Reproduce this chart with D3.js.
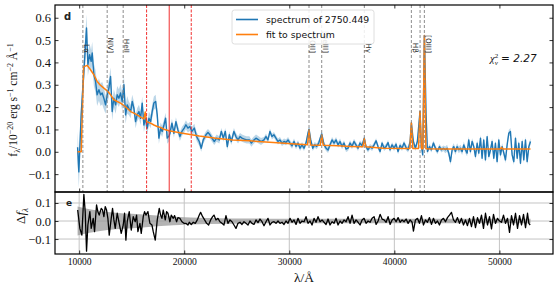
<!DOCTYPE html>
<html>
<head>
<meta charset="utf-8">
<script src="https://cdn.jsdelivr.net/npm/d3@7"></script>
<style>
body{margin:0;background:#fff;}
</style>
</head>
<body>
<script>
//observed wavelength grid of the spectrum (A)
var specLam = [9850,9970,10190,10450,10700,10830,10990,11140,11240,11400,11560,11710,11880,12040,12190,12350,12510,12670,12830,12990,
  13140,13300,13470,13620,13780,13940,14100,14260,14420,14570,14730,14900,15050,15210,15370,15520,15690,15850,16000,16160,
  16320,16480,16640,16800,16950,17110,17280,17430,17590,17750,17900,18070,18230,18380,18540,
  18640,18830,19020,19210,19400,19590,19780,20000,20160,20350,20540,20730,20960,21180,21430,21620,21810,22070,22260,22450,
  22640,22860,23080,23340,23530,23720,23910,24100,24290,24480,24730,24920,25120,25310,25500,25720,25940,26200,26390,26580,
  26830,27080,27310,
  27590,27780,27970,28160,28350,28540,28730,28920,29110,29300,29500,29690,29880,30070,30260,30450,30640,30830,31020,31210,
  31400,31590,31780,31880,32040,32230,32420,32610,32800,32990,33090,33310,33500,33690,33880,34070,34260,34450,34640,34830,
  35020,35210,35400,35590,35780,35970,
  36160,36350,36540,36730,36920,37140,37300,37490,37690,37880,38070,38260,38450,38640,38830,39020,39210,39400,39590,39780,
  39970,40160,40350,40540,40730,40920,41110,41310,41500,41620,41810,42000,42190,42440,42560,42700,42860,43020,43150,43340,
  43530,43720,43910,44100,44290,44480,44670,
  44860,45020,45180,45340,45500,45655,45810,45970,46130,46290,46450,46610,46765,46925,47080,47240,47400,47560,47720,47880,
  48035,48200,48350,48510,48670,48830,48990,49150,49305,49465,49620,49780,49940,50100,50260,50420,50575,50735,50890,51050,
  51210,51370,51530,51690,51845,52005,52165,52320,52480,52640,52800,52960];

//flux density, 1e-20 erg/s/cm2/A
var specFlux = [0.02,-0.09,0.165,0.36,0.554,0.39,0.435,0.405,0.442,0.345,0.315,0.255,0.278,0.255,0.263,0.240,0.210,0.255,0.285,0.337,
  0.180,0.240,0.210,0.255,0.240,0.263,0.225,0.300,0.165,0.210,0.195,0.180,0.225,0.195,0.135,0.165,0.180,0.150,0.218,0.120,
  0.150,0.106,0.150,0.135,0.180,0.218,0.225,0.165,0.061,0.106,0.091,0.120,0.150,0.061,0.070,
  0.083,0.128,0.083,0.135,0.098,0.068,0.091,0.106,0.121,0.106,0.113,0.091,0.106,0.068,0.046,0.016,0.053,0.076,0.086,0.076,
  0.061,0.046,0.061,0.053,0.091,0.061,0.091,0.023,0.076,0.046,0.091,0.068,0.053,0.068,0.061,0.057,0.053,0.053,0.039,0.050,
  0.061,0.053,0.046,
  0.053,0.068,0.053,0.091,0.068,0.076,0.061,0.046,0.053,0.039,0.046,0.042,0.053,0.039,0.027,0.046,0.024,0.039,0.016,0.031,
  0.016,0.039,0.083,0.101,0.053,0.016,0.031,0.024,0.039,0.068,0.080,0.031,0.016,0.008,0.031,0.053,0.039,0.053,0.031,0.046,
  0.024,0.039,0.012,0.016,0.039,0.024,
  0.046,0.031,0.016,0.039,0.028,0.061,0.023,0.009,0.023,0.016,0.031,0.049,0.023,0.001,0.039,0.016,0.023,0.041,0.009,0.031,
  0.016,0.034,0.001,0.028,0.016,0.039,0.019,0.009,0.046,0.128,0.046,0.016,0.046,0.180,0.031,-0.014,0.520,0.165,0.001,0.023,
  0.009,0.039,0.016,0.001,0.023,0.009,0.016,
  0.009,0.016,-0.006,-0.044,0.009,0.023,0.001,0.023,0.009,0.016,0.001,0.031,0.009,-0.006,0.053,0.001,0.046,0.023,-0.021,0.038,
  -0.006,0.061,-0.029,0.053,-0.036,0.068,-0.021,0.009,0.046,-0.029,0.038,-0.044,0.053,-0.014,0.023,-0.006,-0.036,0.031,0.083,0.091,
  -0.014,-0.044,0.061,-0.029,0.038,-0.051,0.046,-0.036,0.053,-0.044,0.023,0.046];

//1 sigma flux error
var specErr = [0.07,0.07,0.06,0.06,0.06,0.05,0.05,0.05,0.05,0.05,0.05,0.05,0.05,0.05,0.05,0.05,0.04,0.04,0.04,0.04,
  0.04,0.04,0.04,0.04,0.04,0.04,0.04,0.04,0.04,0.04,0.03,0.03,0.03,0.03,0.03,0.03,0.03,0.03,0.03,0.03,
  0.03,0.03,0.03,0.03,0.03,0.03,0.03,0.03,0.025,0.025,0.025,0.025,0.025,0.025,0.025,
  0.02,0.02,0.02,0.02,0.02,0.02,0.02,0.02,0.02,0.02,0.02,0.02,0.02,0.02,0.02,0.016,0.016,0.016,0.016,0.016,
  0.016,0.016,0.016,0.016,0.016,0.016,0.016,0.016,0.016,0.016,0.016,0.016,0.016,0.016,0.016,0.016,0.016,0.016,0.016,0.016,
  0.016,0.016,0.016,
  0.013,0.013,0.013,0.013,0.013,0.013,0.013,0.013,0.013,0.013,0.013,0.013,0.013,0.013,0.013,0.013,0.013,0.013,0.013,0.013,
  0.013,0.013,0.013,0.013,0.013,0.013,0.013,0.013,0.013,0.013,0.013,0.013,0.013,0.013,0.013,0.013,0.013,0.013,0.013,0.013,
  0.013,0.013,0.013,0.013,0.013,0.013,
  0.012,0.012,0.012,0.012,0.012,0.012,0.012,0.012,0.012,0.012,0.012,0.012,0.012,0.012,0.012,0.012,0.012,0.012,0.012,0.012,
  0.012,0.012,0.012,0.012,0.012,0.012,0.012,0.012,0.012,0.012,0.012,0.012,0.012,0.012,0.012,0.012,0.012,0.012,0.012,0.012,
  0.012,0.012,0.012,0.012,0.012,0.012,0.012,
  0.015,0.015,0.015,0.015,0.015,0.015,0.015,0.015,0.015,0.015,0.015,0.015,0.015,0.015,0.015,0.015,0.015,0.015,0.015,0.015,
  0.015,0.015,0.015,0.015,0.015,0.015,0.015,0.015,0.015,0.015,0.015,0.015,0.015,0.015,0.015,0.015,0.015,0.015,0.015,0.015,
  0.015,0.015,0.015,0.015,0.015,0.015,0.015,0.015,0.015,0.015,0.015,0.015];

//model fit
var fitLam = [9850,10200,10420,10760,11080,11400,11710,12040,12350,12670,12990,13300,13620,13940,14260,14570,14900,15210,15520,15850,
  16160,16290,16420,16800,17110,17430,17750,18070,18540,19840,21430,23020,24610,26200,28500,30200,31740,31880,32020,32950,
  33090,33230,34640,35780,37000,37140,37280,38960,41480,41620,41760,42300,42440,42580,42720,42860,43000,44830,47000,50100,
  50200,50320,52960];
var fitFlux = [0.0,0.0,0.38,0.387,0.367,0.345,0.315,0.297,0.285,0.273,0.255,0.233,0.225,0.218,0.207,0.195,0.18,0.173,0.165,0.155,
  0.147,0.178,0.135,0.128,0.12,0.113,0.109,0.101,0.094,0.083,0.071,0.061,0.053,0.049,0.042,0.036,0.031,0.098,0.030,0.029,
  0.075,0.029,0.027,0.024,0.022,0.058,0.022,0.016,0.015,0.13,0.015,0.015,0.18,0.014,0.014,0.52,0.014,0.013,0.012,0.012,
  0.02,0.012,0.012];

//residuals (data - fit)
var residLam = [9860,10067,10257,10448,10575,10702,10829,11019,11146,11337,11464,11654,11781,11908,12099,12226,12353,12480,12607,12734,
  12861,13051,13178,13305,13432,13623,13813,14004,14194,14321,14448,14575,14766,14956,15147,15337,15464,15591,15782,15909,
  16099,16226,16353,16544,16734,16925,17052,17242,17433,17623,17750,17877,18004,18195,18322,18449,18639,18766,18957,19084,
  19274,19401,19592,19782,19973,20163,20354,20481,20671,20862,21052,21243,21433,21560,21751,21941,22132,22322,22513,22703,
  22830,23021,23211,23402,23592,23783,23973,24164,24354,24545,24735,24926,25116,25307,25497,25688,25878,26069,26259,26450,
  26640,26831,27021,27212,27402,27593,27783,27974,28164,28355,28545,28736,28926,29117,29307,29498,29688,29879,30069,30260,
  30450,30641,30831,31022,31212,31403,31593,31784,31974,32165,32355,32546,32736,32927,33117,33308,33498,33689,33879,34070,
  34260,34451,34641,34832,35022,35213,35403,35594,35784,35975,36165,36356,36546,36737,36927,37118,37308,37499,37689,37880,
  38070,38261,38451,38642,38832,39023,39213,39404,39594,39785,39975,40166,40356,40547,40737,40928,41118,41309,41499,41690,
  41817,42007,42198,42388,42579,42769,42960,43150,43341,43531,43722,43912,44103,44293,44484,44674,44865,45055,45246,45436,
  45627,45817,46008,46198,46389,46579,46770,46960,47151,47341,47532,47722,47913,48103,48294,48484,48675,48865,49056,49246,
  49437,49627,49818,50008,50199,50389,50580,50770,50961,51151,51342,51532,51723,51913,52104,52294,52485,52675,52802,52929];
var resid = [0.061,-0.041,-0.078,0.148,0.052,-0.167,-0.022,0.052,-0.041,0.015,-0.059,0.089,0.052,0.033,0.070,0.061,0.024,0.080,0.061,0.015,
  -0.078,0.015,0.070,0.006,-0.041,0.043,-0.013,-0.069,-0.022,0.043,-0.106,-0.004,0.052,-0.050,0.024,-0.004,0.033,-0.059,-0.013,-0.069,
  0.024,0.052,0.033,0.052,-0.013,-0.022,-0.059,-0.106,0.006,0.070,0.033,0.015,0.061,0.006,0.052,0.043,-0.004,0.033,0.015,0.030,
  -0.004,0.019,0.015,-0.004,-0.013,-0.013,-0.022,-0.007,-0.019,-0.007,-0.013,0.006,0.033,0.048,0.024,0.006,-0.013,-0.022,0.006,0.024,
  0.033,0.006,0.015,-0.004,-0.013,-0.022,0.030,-0.013,0.006,-0.004,-0.022,-0.041,-0.013,-0.007,-0.019,-0.004,-0.013,-0.022,0.000,-0.013,
  -0.019,0.006,-0.009,0.011,-0.004,-0.026,-0.004,0.015,-0.022,-0.007,-0.004,-0.013,0.000,-0.013,-0.007,-0.019,0.000,-0.013,0.015,-0.007,
  0.006,-0.019,0.015,-0.013,0.000,-0.004,0.024,-0.013,0.000,-0.022,0.015,-0.007,0.024,-0.004,0.006,-0.007,-0.019,0.011,-0.022,-0.004,
  -0.013,0.015,-0.022,0.000,-0.013,0.006,-0.004,0.024,-0.013,0.033,-0.013,0.006,-0.007,-0.022,0.006,0.015,-0.013,0.000,-0.007,0.015,
  0.024,-0.019,0.000,0.037,0.011,0.006,-0.007,0.024,-0.019,0.006,0.015,-0.004,0.019,-0.007,0.006,-0.004,0.011,-0.013,0.006,-0.007,
  -0.056,0.006,0.015,-0.013,0.030,-0.022,0.006,-0.007,0.019,-0.019,0.015,-0.013,0.000,-0.022,0.006,0.015,-0.004,0.019,0.033,0.048,
  0.006,-0.007,0.019,-0.013,0.015,-0.022,0.006,-0.026,0.015,-0.031,0.024,-0.037,0.019,-0.013,0.033,-0.041,0.043,-0.022,0.024,-0.044,
  0.037,-0.013,0.015,0.000,-0.007,0.033,-0.013,0.015,-0.063,0.030,-0.022,0.043,-0.041,0.030,-0.022,0.037,-0.037,0.043,-0.013,-0.022];

//uncertainty envelope in residual panel
var bandLam = [9850,11000,12700,15800,19000,22200,28000,40000,52960];
var bandSig = [0.08,0.065,0.05,0.037,0.024,0.017,0.013,0.012,0.013];

//emission line markers
var lineLam = [10352,12667,14190,31876,33086,37143,41619,42448,42857];
var lineName = ['Lα','NIV]','HeII','[OII]','[NeIII]','Hγ','Hβ','','[OIII]'];
var redLam = [16419,18571,20667];
var redDash = [true,false,true];

var xTicks = [10000,20000,30000,40000,50000];
var yTicks = [-0.1,0,0.1,0.2,0.3,0.4,0.5,0.6];
var rTicks = [-0.1,0,0.1];
var legendNames = ['spectrum of 2750.449','fit to spectrum'];
var chi2 = '2.27';

var width = 558, height = 291;
var L = 55, R = 553, T = 5, M = 192, B = 254;

var svg = d3.select('body').append('svg')
    .attr('width', width)
    .attr('height', height)
    .style('display','block');

var x = d3.scaleLinear().domain([7700, 55100]).range([L, R]);
var y = d3.scaleLinear().domain([-0.18, 0.657]).range([M, T]);
var yr = d3.scaleLinear().domain([-0.183, 0.161]).range([B, M]);

var defs = svg.append('defs');
defs.append('clipPath').attr('id','clipMain').append('rect')
    .attr('x',L).attr('y',T).attr('width',R-L).attr('height',M-T);
defs.append('clipPath').attr('id','clipRes').append('rect')
    .attr('x',L).attr('y',M).attr('width',R-L).attr('height',B-M);

var serif = 'Liberation Serif, DejaVu Serif, serif';
var sans = 'DejaVu Sans, sans-serif';
var idx = d3.range(specLam.length);

//---- main panel ----
var main = svg.append('g').attr('clip-path','url(#clipMain)');

main.append('path')
    .datum(idx)
    .attr('fill','#1f77b4')
    .attr('fill-opacity',0.3)
    .attr('d', d3.area()
        .x(function(i){ return x(specLam[i]); })
        .y0(function(i){ return y(specFlux[i]-specErr[i]); })
        .y1(function(i){ return y(specFlux[i]+specErr[i]); }));

main.append('path')
    .datum(idx)
    .attr('fill','none')
    .attr('stroke','#1f77b4')
    .attr('stroke-width',1.4)
    .attr('stroke-linejoin','round')
    .attr('d', d3.line()
        .x(function(i){ return x(specLam[i]); })
        .y(function(i){ return y(specFlux[i]); }));

main.append('path')
    .datum(d3.range(fitLam.length))
    .attr('fill','none')
    .attr('stroke','#ff7f0e')
    .attr('stroke-width',1.5)
    .attr('stroke-linejoin','round')
    .attr('d', d3.line()
        .x(function(i){ return x(fitLam[i]); })
        .y(function(i){ return y(fitFlux[i]); }));

//line markers
main.selectAll('.eline')
    .data(lineLam)
    .enter()
    .append('line')
    .attr('class','eline')
    .attr('x1', function(d){ return x(d); })
    .attr('x2', function(d){ return x(d); })
    .attr('y1', T).attr('y2', M)
    .attr('stroke','#808080')
    .attr('stroke-width',0.9)
    .attr('stroke-dasharray','3,2');

main.selectAll('.rline')
    .data(redLam)
    .enter()
    .append('line')
    .attr('class','rline')
    .attr('x1', function(d){ return x(d); })
    .attr('x2', function(d){ return x(d); })
    .attr('y1', T).attr('y2', M)
    .attr('stroke','#f03030')
    .attr('stroke-width',1)
    .attr('stroke-dasharray', function(d,i){ return redDash[i] ? '3,1.5' : null; });

main.selectAll('.elabel')
    .data(lineLam)
    .enter()
    .append('text')
    .attr('class','elabel')
    .attr('transform', function(d){ return 'translate(' + (x(d)+1.2) + ',53) rotate(90)'; })
    .attr('text-anchor','end')
    .attr('font-family', sans)
    .attr('font-size', 7.3)
    .attr('fill','#333')
    .text(function(d,i){ return lineName[i]; });

//legend
var lg = svg.append('g');
lg.append('rect')
    .attr('x',232).attr('y',10).attr('width',142).attr('height',34).attr('rx',2.5)
    .attr('fill','#fff').attr('fill-opacity',0.85)
    .attr('stroke','#d6d6d6').attr('stroke-width',0.8);
var legendColors = ['#1f77b4','#ff7f0e'];
legendNames.forEach(function(n,i){
    var yy = 19.5 + i*15;
    lg.append('line').attr('x1',236).attr('x2',258).attr('y1',yy).attr('y2',yy)
        .attr('stroke',legendColors[i]).attr('stroke-width',1.6);
    lg.append('text').attr('x',266).attr('y',yy+3.3)
        .attr('font-family',sans).attr('font-size',9.3).attr('fill','#111')
        .text(n);
});

//chi2 note
var ct = svg.append('text').attr('x',490).attr('y',62).attr('font-size',10.5).attr('fill','#111');
ct.append('tspan').attr('font-family',serif).attr('font-style','italic').text('χ');
ct.append('tspan').attr('font-family',serif).attr('font-size',7).attr('dy',-4).text('2');
ct.append('tspan').attr('font-family',serif).attr('font-style','italic').attr('font-size',7).attr('dx',-3.5).attr('dy',7).text('ν');
ct.append('tspan').attr('font-family',sans).attr('font-style','italic').attr('dy',-3).text(' = ' + chi2);

//---- residual panel ----
var rg = svg.append('g');
rg.selectAll('.ygrid').data(rTicks).enter().append('line')
    .attr('x1',L).attr('x2',R)
    .attr('y1',function(d){ return yr(d); }).attr('y2',function(d){ return yr(d); })
    .attr('stroke','#c4c4c4').attr('stroke-width',1);
rg.selectAll('.xgrid').data(xTicks).enter().append('line')
    .attr('x1',function(d){ return x(d); }).attr('x2',function(d){ return x(d); })
    .attr('y1',M).attr('y2',B)
    .attr('stroke','#c4c4c4').attr('stroke-width',1);

var res = svg.append('g').attr('clip-path','url(#clipRes)');
res.append('path')
    .datum(d3.range(bandLam.length))
    .attr('fill','#999')
    .attr('fill-opacity',0.75)
    .attr('d', d3.area()
        .curve(d3.curveMonotoneX)
        .x(function(i){ return x(bandLam[i]); })
        .y0(function(i){ return yr(-bandSig[i]); })
        .y1(function(i){ return yr(bandSig[i]); }));

res.append('path')
    .datum(d3.range(residLam.length))
    .attr('fill','none')
    .attr('stroke','#000')
    .attr('stroke-width',1.3)
    .attr('stroke-linejoin','round')
    .attr('d', d3.line()
        .x(function(i){ return x(residLam[i]); })
        .y(function(i){ return yr(resid[i]); }));

//---- axes ----
var fmt = d3.format('.1f');
function styleAxis(g, size){
    g.select('.domain').remove();
    g.selectAll('.tick line').attr('stroke','#000').attr('stroke-width',0.8);
    g.selectAll('.tick text').attr('font-family',serif).attr('font-size',size).attr('fill','#111');
}
styleAxis(svg.append('g').attr('transform','translate('+L+',0)')
    .call(d3.axisLeft(y).tickValues(yTicks).tickSize(-3.5).tickPadding(4).tickFormat(fmt)), 12.5);
styleAxis(svg.append('g').attr('transform','translate('+R+',0)')
    .call(d3.axisRight(y).tickValues(yTicks).tickSize(-3.5).tickFormat('')), 10);
styleAxis(svg.append('g').attr('transform','translate(0,'+T+')')
    .call(d3.axisTop(x).tickValues(xTicks).tickSize(-3.5).tickFormat('')), 10);
styleAxis(svg.append('g').attr('transform','translate(0,'+M+')')
    .call(d3.axisBottom(x).tickValues(xTicks).tickSize(-3.5).tickFormat('')), 10);
styleAxis(svg.append('g').attr('transform','translate('+L+',0)')
    .call(d3.axisLeft(yr).tickValues(rTicks).tickSize(-3.5).tickPadding(4).tickFormat(fmt)), 12.5);
styleAxis(svg.append('g').attr('transform','translate('+R+',0)')
    .call(d3.axisRight(yr).tickValues(rTicks).tickSize(-3.5).tickFormat('')), 10);
styleAxis(svg.append('g').attr('transform','translate(0,'+B+')')
    .call(d3.axisBottom(x).tickValues(xTicks).tickSize(-3.5).tickPadding(4).tickFormat(d3.format('d'))), 9.6);

//frames
svg.append('rect').attr('x',L).attr('y',T).attr('width',R-L).attr('height',M-T)
    .attr('fill','none').attr('stroke','#000').attr('stroke-width',1.2);
svg.append('rect').attr('x',L).attr('y',M).attr('width',R-L).attr('height',B-M)
    .attr('fill','none').attr('stroke','#000').attr('stroke-width',1.2);

//panel letters
svg.append('text').attr('x',64).attr('y',20).attr('font-family',sans).attr('font-size',10)
    .attr('font-weight','bold').attr('fill','#222').text('d');
svg.append('text').attr('x',66).attr('y',206).attr('font-family',sans).attr('font-size',9)
    .attr('font-weight','bold').attr('fill','#222').text('e');

//axis titles
var yl = svg.append('text')
    .attr('transform','translate(17,100) rotate(-90)')
    .attr('text-anchor','middle')
    .attr('font-family',serif).attr('font-size',11.5).attr('fill','#111');
yl.append('tspan').text('f');
yl.append('tspan').attr('font-size',8).attr('dy',3).text('λ');
yl.append('tspan').attr('dy',-3).text('/10');
yl.append('tspan').attr('font-size',8).attr('dy',-4.5).text('−20');
yl.append('tspan').attr('dy',4.5).text(' erg s');
yl.append('tspan').attr('font-size',8).attr('dy',-4.5).text('−1');
yl.append('tspan').attr('dy',4.5).text(' cm');
yl.append('tspan').attr('font-size',8).attr('dy',-4.5).text('−2');
yl.append('tspan').attr('dy',4.5).text(' Å');
yl.append('tspan').attr('font-size',8).attr('dy',-4.5).text('−1');

var rl = svg.append('text')
    .attr('transform','translate(25,216) rotate(-90)')
    .attr('text-anchor','middle')
    .attr('font-family',serif).attr('font-size',13).attr('fill','#111');
rl.append('tspan').text('Δ');
rl.append('tspan').attr('font-style','italic').text('f');
rl.append('tspan').attr('font-size',9).attr('dy',3).attr('font-style','italic').text('λ');

svg.append('text')
    .attr('x',304).attr('y',282)
    .attr('text-anchor','middle')
    .attr('font-family',serif).attr('font-size',13.5).attr('fill','#111')
    .text('λ/Å');
</script>
</body>
</html>
